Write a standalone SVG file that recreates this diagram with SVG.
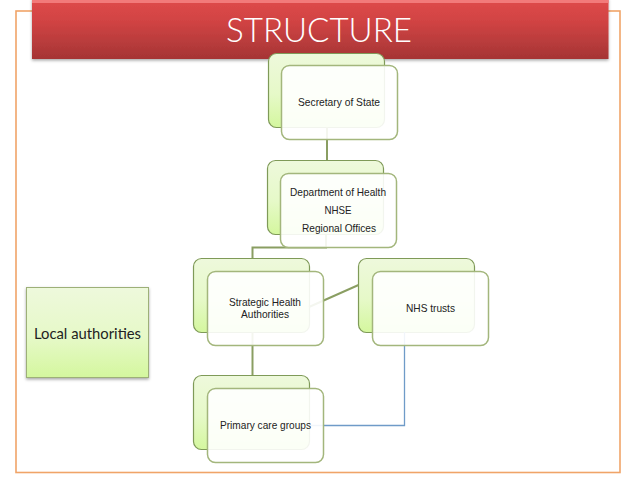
<svg xmlns="http://www.w3.org/2000/svg" width="638" height="479" viewBox="0 0 638 479">
<style>
.back{fill:url(#g);stroke:#7f9a58;stroke-width:1.2}
.front{fill:#fff;fill-opacity:.9;stroke:#a3b67c;stroke-width:1.500}
.lbl{font-family:"Liberation Sans",Arial,sans-serif;font-size:10.800px;fill:#222;text-anchor:middle}
.con{fill:none;stroke:#8a9e62;stroke-width:2}
</style>
<defs>
<linearGradient id="g" x1="0" y1="0" x2="0" y2="1"><stop offset="0" stop-color="#eef9dc"/><stop offset=".55" stop-color="#e6f9c8"/><stop offset="1" stop-color="#d4f79e"/></linearGradient>
<linearGradient id="r" x1="0" y1="0" x2="0" y2="1"><stop offset="0" stop-color="#e04a4a"/><stop offset=".4" stop-color="#d04343"/><stop offset="1" stop-color="#a53535"/></linearGradient>
<filter id="s" x="-5%" y="-5%" width="110%" height="115%"><feDropShadow dx="0" dy="1.5" stdDeviation="1.5" flood-color="#000" flood-opacity=".35"/></filter>
</defs>
<rect width="638" height="479" fill="#fff"/>
<rect id="frame" x="16" y="11" width="604" height="461.5" fill="none" stroke="#f0a468" stroke-width="1.6"/>
<g id="banner"><rect x="32" y="-2" width="576.500" height="61" fill="url(#r)" filter="url(#s)"/><rect x="32" y="0" width="576.500" height="3" fill="#f27a7a"/>
<text x="319" y="42" font-family="Lato,'Open Sans',sans-serif" font-size="33" font-weight="300" fill="#fff" text-anchor="middle" textLength="186" lengthAdjust="spacingAndGlyphs">STRUCTURE</text></g>
<g id="local-authorities"><rect x="26.500" y="287.500" width="122" height="90" fill="url(#g)" stroke="#9db078" filter="url(#s)"/>
<text x="87.500" y="339" font-family="Lato,'Open Sans',sans-serif" font-size="15" fill="#222" text-anchor="middle" textLength="107" lengthAdjust="spacingAndGlyphs">Local authorities</text></g>
<g id="backs">
<rect class="back" x="268.500" y="53.500" width="116" height="74" rx="8"/>
<rect class="back" x="267.500" y="160.500" width="116" height="74" rx="8"/>
<rect class="back" x="193.500" y="258.500" width="116" height="74" rx="8"/>
<rect class="back" x="358.500" y="258.500" width="116" height="74" rx="8"/>
<rect class="back" x="193.500" y="375.500" width="116" height="74" rx="8"/>
</g>
<g id="connectors">
<path class="con" d="M327 127V160"/>
<path class="con" d="M326 235V247.500H252.500V258"/>
<path class="con" d="M309 307L358.500 285"/>
<path class="con" d="M252.500 332V375"/>
<path fill="none" stroke="#6f9bc8" stroke-width="1.300" d="M404.500 332V425.500H310"/>
</g>
<g id="secretary-of-state"><rect class="front" x="281.500" y="65.500" width="116" height="74" rx="8"/><text class="lbl" x="339" y="106" textLength="82" lengthAdjust="spacingAndGlyphs">Secretary of State</text></g>
<g id="department-of-health"><rect class="front" x="280.500" y="173.500" width="116" height="74" rx="8"/><text class="lbl" x="338" y="196" textLength="96" lengthAdjust="spacingAndGlyphs">Department of Health</text><text class="lbl" x="338" y="214" textLength="27" lengthAdjust="spacingAndGlyphs">NHSE</text><text class="lbl" x="339" y="232" textLength="74" lengthAdjust="spacingAndGlyphs">Regional Offices</text></g>
<g id="strategic-health-authorities"><rect class="front" x="207.500" y="271.500" width="116" height="74" rx="8"/><text class="lbl" x="265" y="306" textLength="72" lengthAdjust="spacingAndGlyphs">Strategic Health</text><text class="lbl" x="265" y="318" textLength="48" lengthAdjust="spacingAndGlyphs">Authorities</text></g>
<g id="nhs-trusts"><rect class="front" x="372.500" y="271.500" width="116" height="74" rx="8"/><text class="lbl" x="430.500" y="312" textLength="49" lengthAdjust="spacingAndGlyphs">NHS trusts</text></g>
<g id="primary-care-groups"><rect class="front" x="207.500" y="388.500" width="116" height="74" rx="8"/><text class="lbl" x="265.500" y="429" textLength="91" lengthAdjust="spacingAndGlyphs">Primary care groups</text></g>
</svg>
